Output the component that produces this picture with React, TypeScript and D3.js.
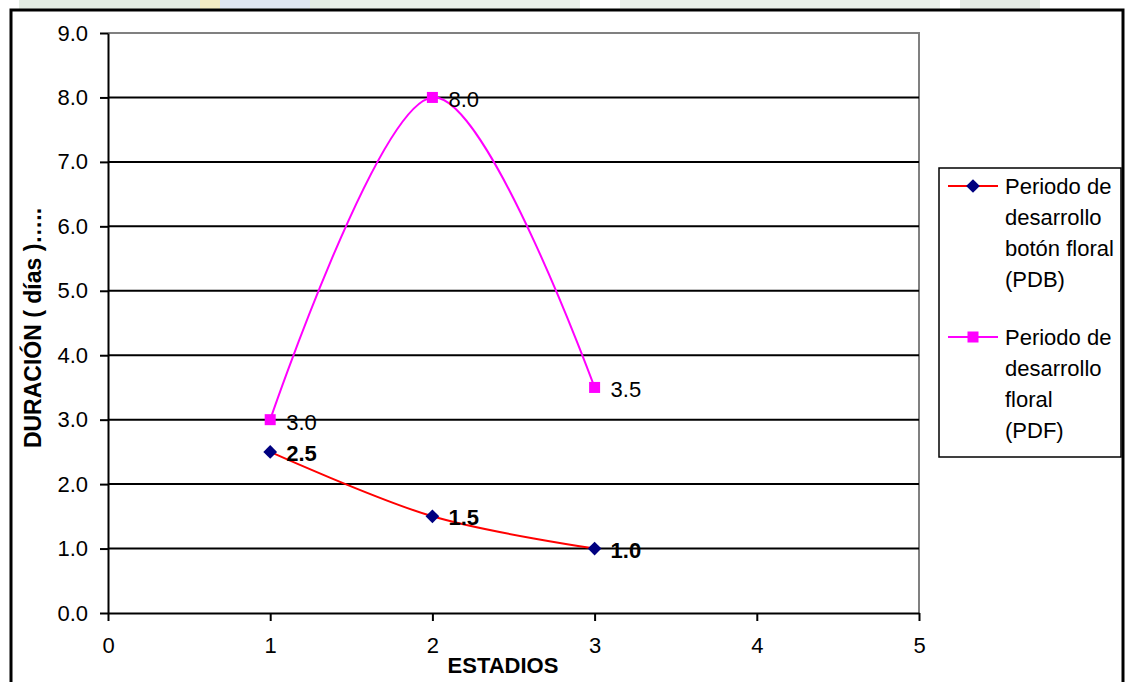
import * as d3 from 'd3';
import React, { useEffect, useRef } from 'react';

const estadios = [1, 2, 3];
const pdbValues = [2.5, 1.5, 1.0];
const pdfValues = [3.0, 8.0, 3.5];
const yTicks = [0, 1, 2, 3, 4, 5, 6, 7, 8, 9];
const xTicks = [0, 1, 2, 3, 4, 5];
const pdbLegend = ['Periodo de', 'desarrollo', 'botón floral', '(PDB)'];
const pdfLegend = ['Periodo de', 'desarrollo', 'floral', '(PDF)'];

const W = 1128;
const H = 682;
const FONT = '"Liberation Sans", Arial, sans-serif';

const App: React.FC = () => {
  const ref = useRef<SVGSVGElement | null>(null);

  useEffect(() => {
    if (!ref.current) return;
    const svg = d3.select(ref.current);
    svg.selectAll('*').remove();

    // faint background strip seen above the chart frame
    const strip = [
      { x: 19, w: 460, c: '#e4ede4' },
      { x: 200, w: 20, c: '#f3ecc4' },
      { x: 220, w: 90, c: '#dfe6f2' },
      { x: 330, w: 250, c: '#eaf0ea' },
      { x: 620, w: 320, c: '#e8efe8' },
      { x: 960, w: 80, c: '#e3ebe3' },
    ];
    svg
      .selectAll('rect.strip')
      .data(strip)
      .enter()
      .append('rect')
      .attr('x', (d) => d.x)
      .attr('y', 0)
      .attr('width', (d) => d.w)
      .attr('height', 9)
      .attr('fill', (d) => d.c);

    // outer frame
    svg
      .append('rect')
      .attr('x', 11)
      .attr('y', 10)
      .attr('width', 1112)
      .attr('height', 690)
      .attr('fill', '#fff')
      .attr('stroke', '#000')
      .attr('stroke-width', 3);

    const left = 108;
    const right = 919;
    const top = 33;
    const bottom = 613;

    const x = d3.scaleLinear().domain([0, 5]).range([left, right]);
    const y = d3.scaleLinear().domain([0, 9]).range([bottom, top]);

    // plot border (gray top/right)
    svg
      .append('path')
      .attr('d', `M${left},${top}H${right}V${bottom}`)
      .attr('fill', 'none')
      .attr('stroke', '#808080')
      .attr('stroke-width', 2);

    // gridlines
    svg
      .selectAll('line.grid')
      .data(yTicks.filter((t) => t > 0 && t < 9))
      .enter()
      .append('line')
      .attr('x1', left)
      .attr('x2', right)
      .attr('y1', (d) => y(d))
      .attr('y2', (d) => y(d))
      .attr('stroke', '#000')
      .attr('stroke-width', 2);

    // y axis
    const yAxis = d3
      .axisLeft(y)
      .tickValues(yTicks)
      .tickFormat(d3.format('.1f'))
      .tickSizeInner(8)
      .tickSizeOuter(0)
      .tickPadding(12);
    const gy = svg.append('g').attr('transform', `translate(${left},0)`).call(yAxis);
    gy.selectAll('path,line').attr('stroke', '#000').attr('stroke-width', 2);
    gy.selectAll('text')
      .attr('font-family', FONT)
      .attr('font-size', 22)
      .attr('fill', '#000');

    // x axis
    const xAxis = d3
      .axisBottom(x)
      .tickValues(xTicks)
      .tickFormat(d3.format('d'))
      .tickSizeInner(8)
      .tickSizeOuter(0)
      .tickPadding(16);
    const gx = svg.append('g').attr('transform', `translate(0,${bottom})`).call(xAxis);
    gx.selectAll('path,line').attr('stroke', '#000').attr('stroke-width', 2);
    gx.selectAll('text')
      .attr('font-family', FONT)
      .attr('font-size', 22)
      .attr('fill', '#000');

    const pdb = estadios.map((e, i) => ({ x: e, y: pdbValues[i] }));
    const pdf = estadios.map((e, i) => ({ x: e, y: pdfValues[i] }));

    const line = d3
      .line<{ x: number; y: number }>()
      .x((d) => x(d.x))
      .y((d) => y(d.y))
      .curve(d3.curveCardinal.tension(0));

    svg
      .append('path')
      .datum(pdb)
      .attr('d', line)
      .attr('fill', 'none')
      .attr('stroke', '#ff0000')
      .attr('stroke-width', 2);

    svg
      .append('path')
      .datum(pdf)
      .attr('d', line)
      .attr('fill', 'none')
      .attr('stroke', '#ff00ff')
      .attr('stroke-width', 2);

    const diamond = d3.symbol().type(d3.symbolDiamond2).size(120);

    svg
      .selectAll('path.pdb')
      .data(pdb)
      .enter()
      .append('path')
      .attr('d', diamond)
      .attr('transform', (d) => `translate(${x(d.x)},${y(d.y)})`)
      .attr('fill', '#000080');

    svg
      .selectAll('rect.pdf')
      .data(pdf)
      .enter()
      .append('rect')
      .attr('x', (d) => x(d.x) - 5.5)
      .attr('y', (d) => y(d.y) - 5.5)
      .attr('width', 11)
      .attr('height', 11)
      .attr('fill', '#ff00ff');

    // data labels
    svg
      .selectAll('text.pdbl')
      .data(pdb)
      .enter()
      .append('text')
      .attr('x', (d) => x(d.x) + 16)
      .attr('y', (d) => y(d.y) + 9)
      .attr('font-family', FONT)
      .attr('font-size', 22)
      .attr('font-weight', 'bold')
      .text((d) => d.y.toFixed(1));

    svg
      .selectAll('text.pdfl')
      .data(pdf)
      .enter()
      .append('text')
      .attr('x', (d) => x(d.x) + 16)
      .attr('y', (d) => y(d.y) + 10)
      .attr('font-family', FONT)
      .attr('font-size', 22)
      .text((d) => d.y.toFixed(1));

    // axis titles
    svg
      .append('text')
      .attr('x', 503)
      .attr('y', 673)
      .attr('text-anchor', 'middle')
      .attr('font-family', FONT)
      .attr('font-size', 22)
      .attr('font-weight', 'bold')
      .text('ESTADIOS');

    svg
      .append('text')
      .attr('transform', `translate(41,328) rotate(-90)`)
      .attr('text-anchor', 'middle')
      .attr('font-family', FONT)
      .attr('font-size', 23)
      .attr('font-weight', 'bold')
      .text('DURACIÓN ( días )…..');

    // legend
    const lg = svg.append('g');
    lg.append('rect')
      .attr('x', 939)
      .attr('y', 168)
      .attr('width', 182)
      .attr('height', 289)
      .attr('fill', '#fff')
      .attr('stroke', '#000')
      .attr('stroke-width', 1.5);

    const items = [
      { lines: pdbLegend, color: '#ff0000', marker: 'diamond', y0: 194 },
      { lines: pdfLegend, color: '#ff00ff', marker: 'square', y0: 345 },
    ];
    items.forEach((it) => {
      lg.append('line')
        .attr('x1', 948)
        .attr('x2', 998)
        .attr('y1', it.y0 - 8)
        .attr('y2', it.y0 - 8)
        .attr('stroke', it.color)
        .attr('stroke-width', 2);
      if (it.marker === 'diamond') {
        lg.append('path')
          .attr('d', diamond)
          .attr('transform', `translate(973,${it.y0 - 8})`)
          .attr('fill', '#000080');
      } else {
        lg.append('rect')
          .attr('x', 967.5)
          .attr('y', it.y0 - 13.5)
          .attr('width', 11)
          .attr('height', 11)
          .attr('fill', '#ff00ff');
      }
      it.lines.forEach((t, i) => {
        lg.append('text')
          .attr('x', 1005)
          .attr('y', it.y0 + i * 31)
          .attr('font-family', FONT)
          .attr('font-size', 22)
          .text(t);
      });
    });
  }, []);

  return (
    <svg
      ref={ref}
      width={W}
      height={H}
      style={{ position: 'absolute', left: 0, top: 0, background: '#fff' }}
    />
  );
};

export default App;
